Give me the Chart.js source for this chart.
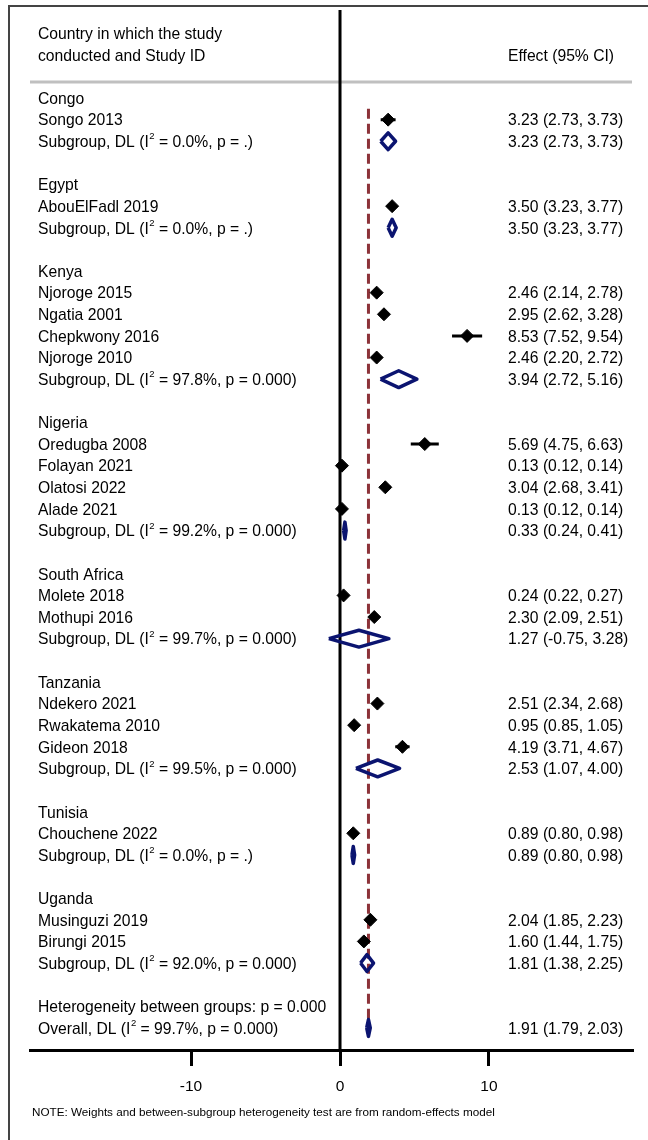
<!DOCTYPE html>
<html><head><meta charset="utf-8">
<script src="https://cdn.jsdelivr.net/npm/chart.js@4.4.1/dist/chart.umd.min.js"></script>
<style>html,body{margin:0;padding:0;background:#fff;} canvas{display:block;}</style>
</head><body>
<canvas id="c" width="648" height="1140"></canvas>
<script>
// ---------- DATA ----------
const groupNames = ["Congo","Egypt","Kenya","Nigeria","South Africa","Tanzania","Tunisia","Uganda"];
const groupI2 = ["0.0","0.0","97.8","99.2","99.7","99.5","0.0","92.0"];
const groupP = [".",".","0.000","0.000","0.000","0.000",".","0.000"];
const groupEst = [3.23,3.50,3.94,0.33,1.27,2.53,0.89,1.81];
const groupLo = [2.73,3.23,2.72,0.24,-0.75,1.07,0.80,1.38];
const groupHi = [3.73,3.77,5.16,0.41,3.28,4.00,0.98,2.25];

const studyNames = ["Songo 2013","AbouElFadl 2019","Njoroge 2015","Ngatia 2001","Chepkwony 2016","Njoroge 2010","Oredugba 2008","Folayan 2021","Olatosi 2022","Alade 2021","Molete 2018","Mothupi 2016","Ndekero 2021","Rwakatema 2010","Gideon 2018","Chouchene 2022","Musinguzi 2019","Birungi 2015"];
const studyGroup = [0,1,2,2,2,2,3,3,3,3,4,4,5,5,5,6,7,7];
const studyEst = [3.23,3.50,2.46,2.95,8.53,2.46,5.69,0.13,3.04,0.13,0.24,2.30,2.51,0.95,4.19,0.89,2.04,1.60];
const studyLo  = [2.73,3.23,2.14,2.62,7.52,2.20,4.75,0.12,2.68,0.12,0.22,2.09,2.34,0.85,3.71,0.80,1.85,1.44];
const studyHi  = [3.73,3.77,2.78,3.28,9.54,2.72,6.63,0.14,3.41,0.14,0.27,2.51,2.68,1.05,4.67,0.98,2.23,1.75];

const overallEst = 1.91, overallLo = 1.79, overallHi = 2.03;
const overallI2 = "99.7", overallP = "0.000", betweenP = "0.000";
const xTicks = [-10, 0, 10];
const headerLeft = ["Country in which the study","conducted and Study ID"];
const headerRight = "Effect (95% CI)";
const noteText = "NOTE: Weights and between-subgroup heterogeneity test are from random-effects model";

// ---------- LAYOUT CONSTANTS ----------
const X_MIN = -20.81, X_MAX = 19.6;
const Y_MIN = -4.07, Y_MAX = 44.02;
const DIAMOND_H = 0.39;   // half-height of summary diamonds in row units
const FONT = '"Liberation Sans", Arial, Helvetica, sans-serif';
const FS = 15.7;
const NAVY = '#0b1470';
const MAROON = '#8c3339';

function fmt(e, l, h){ return e.toFixed(2) + " (" + l.toFixed(2) + ", " + h.toFixed(2) + ")"; }

// ---------- BUILD ROWS ----------
const rows = [];
const studyRow = [];
const groupRow = [];
let r = 0;
groupNames.forEach((g, gi) => {
  rows.push({row: r, left: g}); r++;
  studyNames.forEach((s, si) => {
    if (studyGroup[si] === gi) {
      studyRow[si] = r;
      rows.push({row: r, left: s, right: fmt(studyEst[si], studyLo[si], studyHi[si])});
      r++;
    }
  });
  groupRow[gi] = r;
  rows.push({row: r, left: ["Subgroup, DL (I", "2", " = " + groupI2[gi] + "%, p = " + groupP[gi] + ")"],
             right: fmt(groupEst[gi], groupLo[gi], groupHi[gi])});
  r++;
  r++; // blank
});
const hetRow = r; rows.push({row: r, left: "Heterogeneity between groups: p = " + betweenP}); r++;
const overallRow = r;
rows.push({row: r, left: ["Overall, DL (I", "2", " = " + overallI2 + "%, p = " + overallP + ")"],
           right: fmt(overallEst, overallLo, overallHi)});

// ---------- DATASETS ----------
const pointData = studyEst.map((v, i) => ({x: v, y: studyRow[i]}));
const ciData = [];
studyEst.forEach((v, i) => {
  ciData.push({x: studyLo[i], y: studyRow[i]}, {x: studyHi[i], y: studyRow[i]}, {x: NaN, y: NaN});
});
const diamondData = [];
function addDiamond(e, l, h, row){
  diamondData.push({x: l, y: row}, {x: e, y: row - DIAMOND_H}, {x: h, y: row},
                   {x: e, y: row + DIAMOND_H}, {x: l, y: row}, {x: NaN, y: NaN});
}
groupEst.forEach((e, gi) => addDiamond(e, groupLo[gi], groupHi[gi], groupRow[gi]));
addDiamond(overallEst, overallLo, overallHi, overallRow);

const overallLine = [{x: overallEst, y: 0.5}, {x: overallEst, y: overallRow + 0.5}];
const zeroLine = [{x: 0, y: Y_MIN}, {x: 0, y: Y_MAX}];

// ---------- PLUGIN ----------
function drawSup(ctx, parts, x, y){
  if (typeof parts === 'string') { ctx.fillText(parts, x, y); return; }
  ctx.font = FS + 'px ' + FONT;
  ctx.fillText(parts[0], x, y);
  let w = ctx.measureText(parts[0]).width;
  ctx.font = '9.5px ' + FONT;
  ctx.fillText(parts[1], x + w + 0.5, y - 6);
  w += ctx.measureText(parts[1]).width + 0.5;
  ctx.font = FS + 'px ' + FONT;
  ctx.fillText(parts[2], x + w, y);
}

const forestPlugin = {
  id: 'forest',
  beforeDraw(chart){
    const ctx = chart.ctx;
    ctx.save();
    ctx.fillStyle = '#fff';
    ctx.fillRect(0, 0, chart.width, chart.height);
    ctx.strokeStyle = '#444';
    ctx.lineWidth = 2;
    ctx.strokeRect(9, 6, chart.width + 10, chart.height + 10);
    ctx.restore();
  },
  beforeDatasetsDraw(chart){
    const {ctx, chartArea: ca, scales: {y}} = chart;
    ctx.save();
    ctx.strokeStyle = '#c0c0c0';
    ctx.lineWidth = 3;
    const yy = y.getPixelForValue(-0.74);
    ctx.beginPath(); ctx.moveTo(ca.left, yy); ctx.lineTo(ca.right, yy); ctx.stroke();
    ctx.restore();
  },
  afterDatasetsDraw(chart){
    const {ctx, scales: {y}} = chart;
    ctx.save();
    ctx.fillStyle = '#000';
    ctx.textBaseline = 'middle';
    ctx.textAlign = 'left';
    ctx.font = FS + 'px ' + FONT;
    const LX = 38, RX = 508, DY = 1.5;
    ctx.fillText(headerLeft[0], LX, y.getPixelForValue(-3) + DY);
    ctx.fillText(headerLeft[1], LX, y.getPixelForValue(-2) + DY);
    ctx.fillText(headerRight, RX, y.getPixelForValue(-2) + DY);
    rows.forEach(rw => {
      const py = y.getPixelForValue(rw.row) + DY;
      ctx.font = FS + 'px ' + FONT;
      drawSup(ctx, rw.left, LX, py);
      if (rw.right) { ctx.font = FS + 'px ' + FONT; ctx.fillText(rw.right, RX, py); }
    });
    ctx.font = '11.7px ' + FONT;
    ctx.fillText(noteText, 32, 1113);
    ctx.restore();
  }
};

new Chart(document.getElementById('c'), {
  type: 'scatter',
  data: {
    datasets: [
      {type: 'scatter', data: pointData, order: 1, pointStyle: 'rectRot', pointRadius: 6.5,
       pointBorderWidth: 1, backgroundColor: '#000', borderColor: '#000'},
      {type: 'line', data: diamondData, order: 2, showLine: true, spanGaps: false, borderColor: NAVY,
       borderWidth: 3.5, pointRadius: 0, fill: false, tension: 0, borderJoinStyle: 'round'},
      {type: 'line', data: ciData, order: 3, showLine: true, spanGaps: false, borderColor: '#000',
       borderWidth: 3, pointRadius: 0, fill: false, tension: 0},
      {type: 'line', data: overallLine, order: 4, showLine: true, borderColor: MAROON, borderWidth: 3,
       borderDash: [10, 5], pointRadius: 0, fill: false},
      {type: 'line', data: zeroLine, order: 5, showLine: true, borderColor: '#000', borderWidth: 3,
       pointRadius: 0, fill: false}
    ]
  },
  options: {
    responsive: false,
    animation: false,
    events: [],
    layout: {padding: {left: 30, right: 16, top: 10, bottom: 0}},
    plugins: {legend: {display: false}, tooltip: {enabled: false}},
    scales: {
      x: {
        type: 'linear', min: X_MIN, max: X_MAX,
        afterBuildTicks: ax => { ax.ticks = xTicks.map(v => ({value: v})); },
        afterFit: s => { s.height = 90; },
        grid: {display: true, drawOnChartArea: false, drawTicks: true, tickLength: 16, lineWidth: 3, color: '#000'},
        border: {display: true, width: 3, color: '#000'},
        ticks: {autoSkip: false, maxRotation: 0, color: '#000', font: {size: 15.5, family: FONT}, padding: 11,
                callback: v => String(v)}
      },
      y: {type: 'linear', display: false, min: Y_MIN, max: Y_MAX, reverse: true}
    }
  },
  plugins: [forestPlugin]
});
</script>
</body></html>
